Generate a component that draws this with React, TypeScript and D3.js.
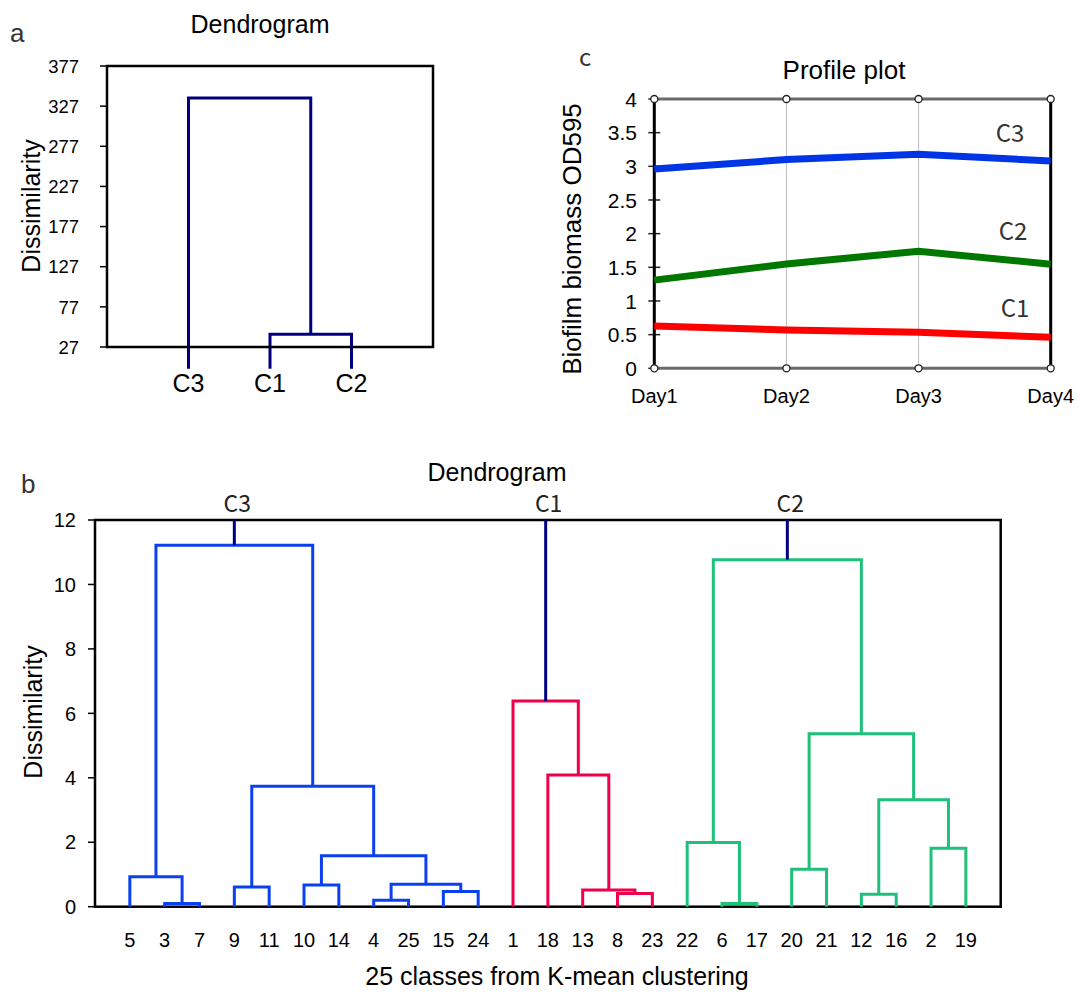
import React from "react";
import * as d3 from "d3";

// ---------- Panel a data ----------
const aLeaves = ["C3", "C1", "C2"];
const aTicks = [27, 77, 127, 177, 227, 277, 327, 377];
// [left, right, height]; "m#" refers to an earlier merge
const aMerges: [string, string, number][] = [
  ["C1", "C2", 43],
  ["C3", "m0", 337],
];

// ---------- Panel b data ----------
const bLeaves = ["5", "3", "7", "9", "11", "10", "14", "4", "25", "15", "24", "1", "18", "13", "8", "23", "22", "6", "17", "20", "21", "12", "16", "2", "19"];
const bTicks = [0, 2, 4, 6, 8, 10, 12];
const c3Merges: [string, string, number][] = [
  ["3", "7", 0.1],
  ["5", "m0", 0.93],
  ["9", "11", 0.61],
  ["10", "14", 0.67],
  ["4", "25", 0.2],
  ["15", "24", 0.47],
  ["m4", "m5", 0.7],
  ["m3", "m6", 1.58],
  ["m2", "m7", 3.74],
  ["m1", "m8", 11.22],
];
const c1Merges: [string, string, number][] = [
  ["8", "23", 0.41],
  ["13", "m0", 0.52],
  ["18", "m1", 4.09],
  ["1", "m2", 6.38],
];
const c2Merges: [string, string, number][] = [
  ["6", "17", 0.1],
  ["22", "m0", 1.99],
  ["20", "21", 1.16],
  ["12", "16", 0.39],
  ["2", "19", 1.81],
  ["m3", "m4", 3.32],
  ["m2", "m5", 5.37],
  ["m1", "m6", 10.77],
];
const bClusterNames = ["C3", "C1", "C2"];
const bClusterColors = ["#0a40f0", "#f0004a", "#1ec07a"];

// ---------- Panel c data ----------
const days = ["Day1", "Day2", "Day3", "Day4"];
const cTicks = [0, 0.5, 1, 1.5, 2, 2.5, 3, 3.5, 4];
const profileC1 = [0.63, 0.57, 0.535, 0.46];
const profileC2 = [1.31, 1.55, 1.74, 1.545];
const profileC3 = [2.96, 3.1, 3.18, 3.08];
const profileNames = ["C1", "C2", "C3"];
const profileColors = ["#ff0000", "#007800", "#0035e6"];

const FONT = "'Liberation Sans', Arial, sans-serif";
const CJK = "'Noto Sans CJK SC', 'Noto Sans', sans-serif";

function buildDendro(
  merges: [string, string, number][],
  leaves: string[],
  x: d3.ScaleLinear<number, number>,
  y: d3.ScaleLinear<number, number>
) {
  const nodes: { x: number; h: number }[] = [];
  const paths: string[] = [];
  const get = (id: string) => {
    if (id.startsWith("m")) return nodes[+id.slice(1)];
    return { x: x(leaves.indexOf(id) + 1), h: 0 };
  };
  merges.forEach(([a, b, h]) => {
    const na = get(a);
    const nb = get(b);
    const p = d3.path();
    p.moveTo(na.x, y(na.h));
    p.lineTo(na.x, y(h));
    p.lineTo(nb.x, y(h));
    p.lineTo(nb.x, y(nb.h));
    paths.push(p.toString());
    nodes.push({ x: (na.x + nb.x) / 2, h });
  });
  return { paths, root: nodes[nodes.length - 1] };
}

function PanelA() {
  const x = d3.scaleLinear().domain([0, 4]).range([107, 433]);
  const y = d3.scaleLinear().domain([27, 377]).range([347, 66]);
  const { paths } = buildDendro(aMerges, aLeaves, x, y);
  return (
    <g>
      <text x={10} y={41.5} fontFamily={FONT} fontSize={26} fill="#333">a</text>
      <text x={260} y={33} textAnchor="middle" fontFamily={FONT} fontSize={25}>Dendrogram</text>
      <text transform={`translate(40,206) rotate(-90)`} textAnchor="middle" fontFamily={FONT} fontSize={25}>Dissimilarity</text>
      {aTicks.map((t) => (
        <g key={t}>
          <line x1={100} x2={107} y1={y(t)} y2={y(t)} stroke="#000" strokeWidth={1.5} />
          <text x={79} y={y(t)} dy="0.36em" textAnchor="end" fontFamily={FONT} fontSize={18.5}>{t}</text>
        </g>
      ))}
      {paths.map((d, i) => (
        <path key={i} d={d} fill="none" stroke="#00007f" strokeWidth={3} />
      ))}
      <rect x={107} y={66} width={326} height={281} fill="none" stroke="#000" strokeWidth={2.5} />
      {aLeaves.map((l, i) => (
        <text key={l} x={x(i + 1)} y={391.5} textAnchor="middle" fontFamily={FONT} fontSize={25}>{l}</text>
      ))}
    </g>
  );
}

function PanelB() {
  const x = d3.scaleLinear().domain([0, 26]).range([95, 1000.7]);
  const y = d3.scaleLinear().domain([0, 12]).range([906.7, 520]);
  const clusters = [c3Merges, c1Merges, c2Merges].map((m) => buildDendro(m, bLeaves, x, y));
  return (
    <g>
      <text x={21} y={493} fontFamily={FONT} fontSize={26} fill="#333">b</text>
      <text x={497} y={481} textAnchor="middle" fontFamily={FONT} fontSize={25}>Dendrogram</text>
      <text transform={`translate(41.5,712) rotate(-90)`} textAnchor="middle" fontFamily={FONT} fontSize={25}>Dissimilarity</text>
      <text x={557} y={985} textAnchor="middle" fontFamily={FONT} fontSize={25}>25 classes from K-mean clustering</text>
      {bTicks.map((t) => (
        <g key={t}>
          <line x1={88} x2={95} y1={y(t)} y2={y(t)} stroke="#000" strokeWidth={1.5} />
          <text x={76} y={y(t)} dy="0.36em" textAnchor="end" fontFamily={FONT} fontSize={20}>{t}</text>
        </g>
      ))}
      {bLeaves.map((l, i) => (
        <text key={l} x={x(i + 1)} y={946.5} textAnchor="middle" fontFamily={FONT} fontSize={20}>{l}</text>
      ))}
      <rect x={95} y={520} width={905.7} height={386.7} fill="none" stroke="#000" strokeWidth={2.5} />
      {clusters.map((c, ci) => (
        <g key={ci}>
          {c.paths.map((d, i) => (
            <path key={i} d={d} fill="none" stroke={bClusterColors[ci]} strokeWidth={3} />
          ))}
          <line x1={c.root.x} x2={c.root.x} y1={y(c.root.h)} y2={y(12)} stroke="#00007f" strokeWidth={3} />
          <text x={c.root.x + 3} y={512} textAnchor="middle" fontFamily={CJK} fontSize={23} fill="#222">{bClusterNames[ci]}</text>
        </g>
      ))}
    </g>
  );
}

function PanelC() {
  const x = d3.scalePoint<string>().domain(days).range([654.3, 1050.7]);
  const y = d3.scaleLinear().domain([0, 4]).range([368.3, 99]);
  const line = d3
    .line<number>()
    .x((_, i) => x(days[i]) as number)
    .y((v) => y(v));
  const series = [profileC1, profileC2, profileC3];
  const labelPos = [
    { x: 1015, y: 317 },
    { x: 1013, y: 240 },
    { x: 1010, y: 141.5 },
  ];
  const x0 = x(days[0]) as number;
  const x1 = x(days[days.length - 1]) as number;
  return (
    <g>
      <text x={579} y={66} fontFamily={CJK} fontSize={24} fill="#333">c</text>
      <text x={844} y={79} textAnchor="middle" fontFamily={FONT} fontSize={26}>Profile plot</text>
      <text transform={`translate(580.5,239) rotate(-90)`} textAnchor="middle" fontFamily={FONT} fontSize={26}>Biofilm biomass OD595</text>
      {days.slice(1, -1).map((d) => (
        <line key={d} x1={x(d)} x2={x(d)} y1={y(4)} y2={y(0)} stroke="#bdbdbd" strokeWidth={1} />
      ))}
      {cTicks.map((t) => (
        <g key={t}>
          <line x1={x0 - 6} x2={x0 + 6} y1={y(t)} y2={y(t)} stroke="#222" strokeWidth={1.5} />
          <text x={637} y={y(t)} dy="0.36em" textAnchor="end" fontFamily={FONT} fontSize={21}>{d3.format("~g")(t)}</text>
        </g>
      ))}
      <line x1={x0} x2={x1} y1={y(4)} y2={y(4)} stroke="#6a6a6a" strokeWidth={3} />
      <line x1={x0} x2={x1} y1={y(0)} y2={y(0)} stroke="#6a6a6a" strokeWidth={3} />
      <line x1={x0} x2={x0} y1={y(4)} y2={y(0)} stroke="#000" strokeWidth={3} />
      <line x1={x1} x2={x1} y1={y(4)} y2={y(0)} stroke="#000" strokeWidth={3} />
      {series.map((s, i) => (
        <path key={i} d={line(s) as string} fill="none" stroke={profileColors[i]} strokeWidth={7} />
      ))}
      {days.map((d) => (
        <g key={d}>
          <circle cx={x(d)} cy={y(4)} r={3.5} fill="#fff" stroke="#222" strokeWidth={1.3} />
          <circle cx={x(d)} cy={y(0)} r={3.5} fill="#fff" stroke="#222" strokeWidth={1.3} />
          <text x={x(d)} y={403} textAnchor="middle" fontFamily={FONT} fontSize={20}>{d}</text>
        </g>
      ))}
      {profileNames.map((n, i) => (
        <text key={n} x={labelPos[i].x} y={labelPos[i].y} textAnchor="middle" fontFamily={CJK} fontSize={24} fill="#333">{n}</text>
      ))}
    </g>
  );
}

export default function App() {
  return (
    <svg
      width={1079}
      height={992}
      viewBox="0 0 1079 992"
      style={{ position: "absolute", left: 0, top: 0, background: "#fff" }}
    >
      <rect width={1079} height={992} fill="#fff" />
      <PanelA />
      <PanelC />
      <PanelB />
    </svg>
  );
}
